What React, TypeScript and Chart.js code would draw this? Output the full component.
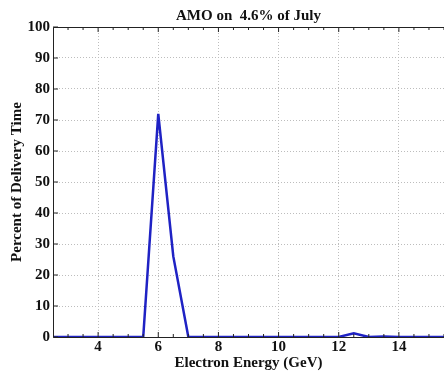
import React, { useEffect, useRef } from "react";
import { Chart, registerables } from "chart.js";
Chart.register(...registerables);

const energies = [2.5, 3, 3.5, 4, 4.5, 5, 5.5, 6, 6.5, 7, 7.5, 8, 8.5, 9, 9.5, 10, 10.5, 11, 11.5, 12, 12.5, 13, 13.5, 14, 14.5, 15, 15.5];
const percents = [0, 0, 0, 0, 0, 0, 0, 72, 26, 0, 0, 0, 0, 0, 0, 0, 0, 0, 0, 0, 1.2, 0, 0.2, 0, 0, 0, 0];
const xTicks = [4, 6, 8, 10, 12, 14];
const yTicks = [0, 10, 20, 30, 40, 50, 60, 70, 80, 90, 100];
const titleText = "AMO on  4.6% of July";
const xTitle = "Electron Energy (GeV)";
const yTitle = "Percent of Delivery Time";

const FONT = "'Liberation Serif', 'Times New Roman', serif";

const boxPlugin = {
  id: "boxPlugin",
  afterDatasetsDraw(chart: any) {
    const { ctx, chartArea, scales } = chart;
    const { left, right, top, bottom } = chartArea;
    ctx.save();
    ctx.strokeStyle = "#222";
    ctx.lineWidth = 1;
    const xs = scales.x;
    for (let v = 3; v <= 15.5; v += 0.5) {
      const px = xs.getPixelForValue(v);
      const major = xTicks.includes(v);
      const len = major ? 5 : 3;
      ctx.beginPath();
      ctx.moveTo(px, bottom);
      ctx.lineTo(px, bottom - len);
      ctx.moveTo(px, top);
      ctx.lineTo(px, top + len);
      ctx.stroke();
    }
    const ys = scales.y;
    for (const v of yTicks) {
      const py = ys.getPixelForValue(v);
      ctx.beginPath();
      ctx.moveTo(left, py);
      ctx.lineTo(left + 5, py);
      ctx.stroke();
    }
    ctx.beginPath();
    ctx.moveTo(right, top + 0.5);
    ctx.lineTo(left + 0.5, top + 0.5);
    ctx.lineTo(left + 0.5, bottom + 0.5);
    ctx.lineTo(right, bottom + 0.5);
    ctx.stroke();
    ctx.restore();
  },
};

export default function App() {
  const ref = useRef<HTMLCanvasElement>(null);
  useEffect(() => {
    const chart = new Chart(ref.current!, {
      type: "line",
      data: {
        datasets: [
          {
            data: energies.map((e, i) => ({ x: e, y: percents[i] })),
            borderColor: "#1f22c4",
            borderWidth: 2.5,
            pointRadius: 0,
            tension: 0,
            fill: false,
          },
        ],
      },
      plugins: [boxPlugin],
      options: {
        animation: false,
        responsive: false,
        maintainAspectRatio: false,
        layout: { padding: { left: 0, right: 0, top: 0, bottom: 0 } },
        plugins: {
          legend: { display: false },
          tooltip: { enabled: false },
          title: {
            display: true,
            text: titleText,
            fullSize: false,
            color: "#111",
            font: { family: FONT, size: 15, weight: "bold" },
            padding: { top: 7, bottom: 2 },
          },
        },
        scales: {
          x: {
            type: "linear",
            min: 2.5,
            max: 15.5,
            afterBuildTicks: (scale: any) => {
              scale.ticks = xTicks.map((v) => ({ value: v }));
            },
            afterFit: (scale: any) => {
              scale.height = 35;
            },
            grid: { color: "#bdbdbd", drawTicks: false, tickLength: 0 },
            border: { display: false, dash: [1, 2] },
            ticks: {
              color: "#111",
              padding: 1,
              font: { family: FONT, size: 15, weight: "bold" },
              maxRotation: 0,
              callback: (v: any) => String(v),
            },
            title: {
              display: true,
              text: xTitle,
              color: "#111",
              padding: { top: 0, bottom: 0 },
              font: { family: FONT, size: 15, weight: "bold" },
            },
          },
          y: {
            min: 0,
            max: 100,
            afterBuildTicks: (scale: any) => {
              scale.ticks = yTicks.map((v) => ({ value: v }));
            },
            afterFit: (scale: any) => {
              scale.width = 53;
            },
            grid: { color: "#bdbdbd", drawTicks: false, tickLength: 0 },
            border: { display: false, dash: [1, 2] },
            ticks: {
              color: "#111",
              padding: 3,
              font: { family: FONT, size: 15, weight: "bold" },
            },
            title: {
              display: true,
              text: yTitle,
              color: "#111",
              padding: { top: 8, bottom: 0 },
              font: { family: FONT, size: 15, weight: "bold" },
            },
          },
        },
      },
    } as any);
    return () => chart.destroy();
  }, []);
  return (
    <div style={{ position: "absolute", left: 0, top: 0, width: 444, height: 372, background: "#fff" }}>
      <canvas ref={ref} width={444} height={372} style={{ width: 444, height: 372 }} />
    </div>
  );
}
